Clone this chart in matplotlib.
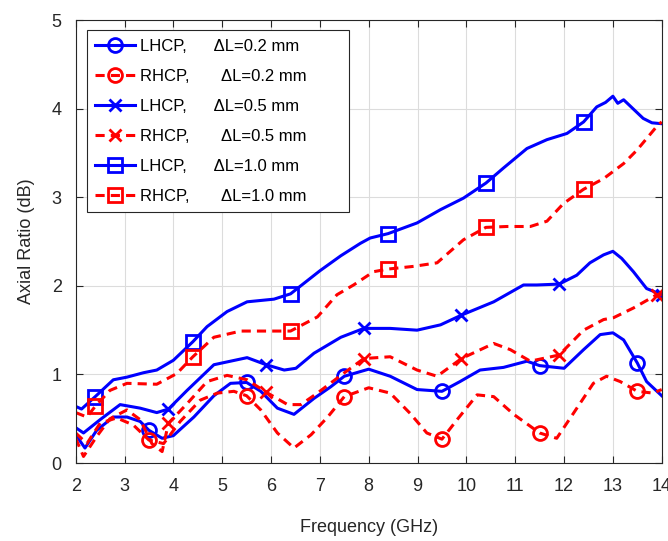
import numpy as np
import matplotlib
matplotlib.use("Agg")
import matplotlib.pyplot as plt

plt.rcParams['font.family'] = ['Liberation Sans', 'DejaVu Sans']

# 数据：近似值
x_l10 = [2.0, 2.12, 2.4, 2.77, 3.05, 3.39, 3.66, 4.0, 4.4, 4.69, 5.1, 5.51, 6.06, 6.4, 7.0,
         7.43, 7.83, 8.03, 8.4, 8.99, 9.47, 9.94, 10.4, 10.76, 11.24, 11.65, 12.06, 12.4,
         12.67, 12.85, 13.0, 13.1, 13.22, 13.62, 13.8, 14.0]
y_l10 = [0.64, 0.61, 0.75, 0.94, 0.97, 1.02, 1.05, 1.16, 1.37, 1.54, 1.71, 1.82, 1.85, 1.91, 2.17,
         2.34, 2.48, 2.54, 2.59, 2.71, 2.86, 2.99, 3.16, 3.33, 3.55, 3.65, 3.72, 3.85,
         4.02, 4.07, 4.14, 4.06, 4.1, 3.89, 3.84, 3.83]

x_r10 = [2.0, 2.23, 2.4, 2.7, 3.05, 3.66, 4.07, 4.4, 4.83, 5.38, 5.92, 6.4, 6.95, 7.35, 7.69,
         8.1, 8.4, 8.92, 9.4, 9.94, 10.4, 10.83, 11.31, 11.65, 11.99, 12.4, 12.81, 13.22,
         13.49, 13.93, 14.0]
y_r10 = [0.57, 0.52, 0.64, 0.82, 0.9, 0.89, 1.01, 1.2, 1.42, 1.49, 1.49, 1.49, 1.65, 1.9, 2.01,
         2.16, 2.19, 2.22, 2.26, 2.52, 2.66, 2.67, 2.67, 2.73, 2.93, 3.09, 3.21, 3.38,
         3.53, 3.82, 3.85]

x_l05 = [2.0, 2.16, 2.5, 2.91, 3.32, 3.66, 3.9, 4.28, 4.83, 5.51, 5.9, 6.27, 6.51, 6.88, 7.43,
         7.9, 8.44, 8.99, 9.47, 9.9, 10.56, 11.17, 11.44, 11.9, 12.26, 12.53, 12.81, 13.0,
         13.18, 13.42, 13.69, 14.0]
y_l05 = [0.40, 0.34, 0.49, 0.66, 0.62, 0.57, 0.61, 0.82, 1.11, 1.19, 1.11, 1.05, 1.07, 1.24, 1.42,
         1.52, 1.52, 1.50, 1.56, 1.67, 1.82, 2.01, 2.01, 2.02, 2.12, 2.26, 2.35, 2.39,
         2.31, 2.16, 1.97, 1.9]

x_r05 = [2.0, 2.16, 2.43, 2.7, 3.05, 3.32, 3.56, 3.77, 3.9, 4.28, 4.69, 5.1, 5.51, 5.9, 6.34,
         6.61, 6.95, 7.43, 7.9, 8.44, 8.99, 9.4, 9.9, 10.56, 10.9, 11.31, 11.9, 12.4, 12.81,
         13.01, 13.42, 13.9, 14.0]
y_r05 = [0.28, 0.075, 0.3, 0.5, 0.6, 0.49, 0.22, 0.13, 0.45, 0.67, 0.92, 0.99, 0.94, 0.8, 0.66,
         0.66, 0.79, 0.99, 1.18, 1.2, 1.05, 0.98, 1.18, 1.35, 1.28, 1.15, 1.22, 1.5, 1.62,
         1.64, 1.75, 1.9, 1.9]

x_l02 = [2.0, 2.19, 2.43, 2.77, 3.05, 3.32, 3.5, 3.77, 4.0, 4.42, 4.83, 5.17, 5.5, 5.79, 6.13,
         6.47, 6.88, 7.22, 7.5, 8.0, 8.44, 8.99, 9.5, 9.87, 10.28, 10.76, 11.24, 11.5, 12.0,
         12.4, 12.74, 13.0, 13.22, 13.5, 13.69, 14.0]
y_l02 = [0.32, 0.17, 0.37, 0.52, 0.52, 0.47, 0.37, 0.28, 0.31, 0.52, 0.76, 0.9, 0.91, 0.81, 0.62,
         0.55, 0.73, 0.86, 0.98, 1.06, 0.98, 0.83, 0.81, 0.92, 1.05, 1.08, 1.15, 1.10, 1.07,
         1.28, 1.45, 1.47, 1.39, 1.13, 0.92, 0.76]

x_r02 = [2.0, 2.23, 2.5, 2.84, 3.18, 3.5, 3.8, 4.14, 4.55, 4.9, 5.24, 5.5, 5.79, 6.13, 6.47,
         6.82, 7.16, 7.5, 8.0, 8.44, 8.85, 9.19, 9.5, 9.81, 10.22, 10.56, 10.97, 11.5, 11.85,
         12.19, 12.6, 12.87, 13.15, 13.5, 13.82, 14.0]
y_r02 = [0.34, 0.22, 0.45, 0.51, 0.43, 0.26, 0.22, 0.47, 0.71, 0.79, 0.81, 0.76, 0.6, 0.34, 0.17,
         0.32, 0.52, 0.75, 0.85, 0.79, 0.56, 0.34, 0.27, 0.49, 0.77, 0.75, 0.55, 0.34, 0.28,
         0.56, 0.9, 0.98, 0.92, 0.81, 0.79, 0.83]

mk_o = [3.5, 5.5, 7.5, 9.5, 11.5, 13.5]
mk_x = [3.9, 5.9, 7.9, 9.9, 11.9, 13.9]
mk_s = [2.4, 4.4, 6.4, 8.4, 10.4, 12.4]

labels = ['LHCP,      \u0394L=0.2 mm         ', 'RHCP,       \u0394L=0.2 mm',
          'LHCP,      \u0394L=0.5 mm', 'RHCP,       \u0394L=0.5 mm',
          'LHCP,      \u0394L=1.0 mm', 'RHCP,       \u0394L=1.0 mm']

series = [
    (x_l02, y_l02, 'blue', '-', 'o', mk_o),
    (x_r02, y_r02, 'red', '--', 'o', mk_o),
    (x_l05, y_l05, 'blue', '-', 'x', mk_x),
    (x_r05, y_r05, 'red', '--', 'x', mk_x),
    (x_l10, y_l10, 'blue', '-', 's', mk_s),
    (x_r10, y_r10, 'red', '--', 's', mk_s),
]

fig = plt.figure(figsize=(6.68, 5.41), dpi=100)
ax = fig.add_axes([0.1133, 0.144, 0.8773, 0.819])

for (xs, ys, c, ls, m, mk), lab in zip(series, labels):
    xs = np.array(xs)
    idx = [int(np.argmin(np.abs(xs - v))) for v in mk]
    line, = ax.plot(xs, ys, color=c, linestyle=ls, lw=2.2, marker=m, markevery=idx,
                    markersize=10 if m != 'x' else 8.5, markeredgewidth=2,
                    markerfacecolor='none', label=lab)
    if ls == '--':
        line.set_dashes([3.0, 2.0])

ax.set_xlim(2, 14)
ax.set_ylim(0, 5)
ax.set_xticks(range(2, 15))
ax.set_yticks(range(0, 6))
ax.grid(True, color='#dcdcdc', lw=0.8)
ax.tick_params(direction='in', length=5, labelsize=13, colors='#262626', top=True, right=True)
ax.tick_params(axis='x', pad=11)
ax.tick_params(axis='y', pad=10)
for s in ax.spines.values():
    s.set_color('#262626')
    s.set_linewidth(0.8)
ax.set_xlabel('Frequency (GHz)', fontsize=13, color='#262626', labelpad=17)
ax.set_ylabel('Axial Ratio (dB)', fontsize=13, color='#262626', labelpad=12)

leg = ax.legend(loc='upper left', bbox_to_anchor=(0.019, 0.977), borderaxespad=0, fontsize=12,
                handlelength=2.4, labelspacing=0.9, fancybox=False, edgecolor='#262626',
                framealpha=1, borderpad=0.5, handletextpad=0.3)
leg.get_frame().set_linewidth(0.8)

fig.savefig('out.png', dpi=100)
